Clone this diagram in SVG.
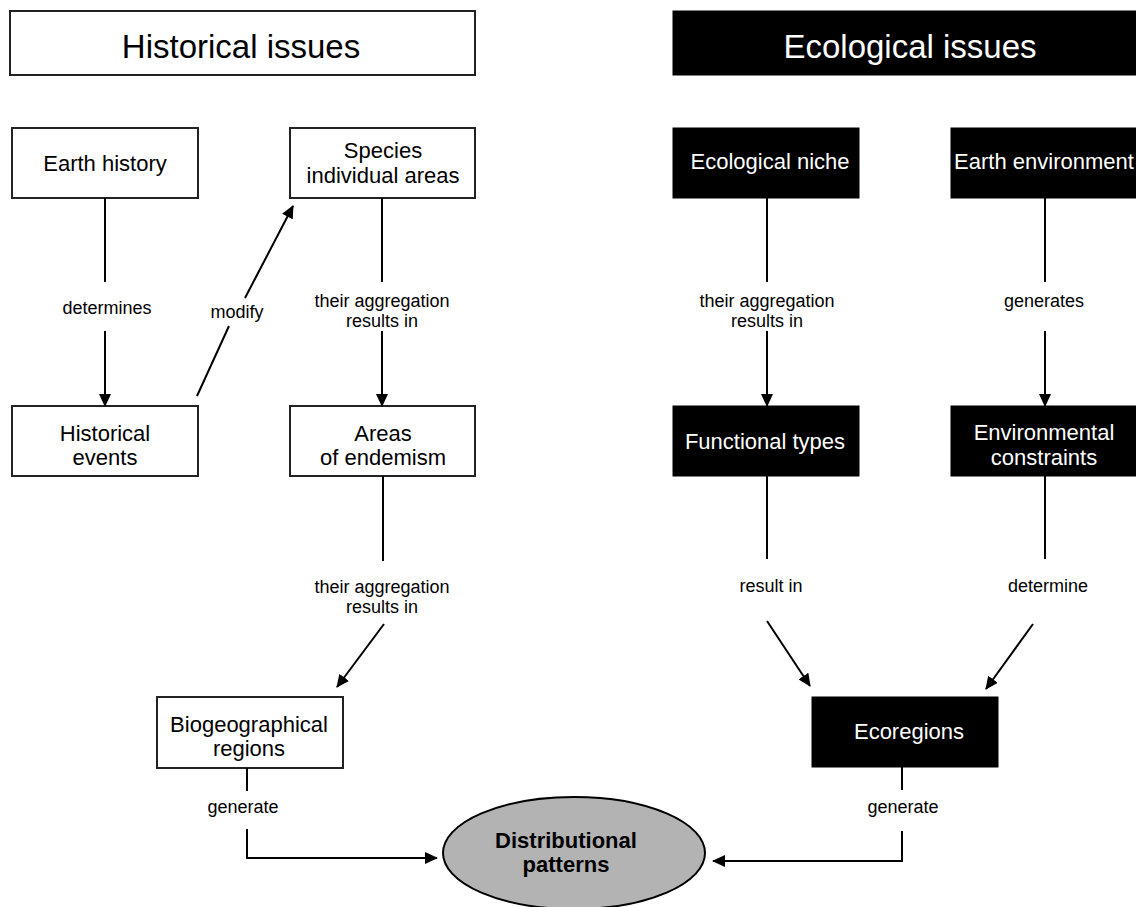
<svg xmlns="http://www.w3.org/2000/svg" width="1136" height="907" viewBox="0 0 1136 907">
<style>
text{font-family:"Liberation Sans",Arial,sans-serif;text-anchor:middle;fill:#000}
.hd{font-size:33px}
.bx{font-size:22px}
.lb{font-size:18px}
.w{fill:#fff}
.b{font-weight:bold}
.wn{fill:#fff;stroke:#222;stroke-width:2}
.bn{fill:#000;stroke:#000;stroke-width:1}
.c{stroke:#000;stroke-width:2;fill:none}
</style>
<defs>
<marker id="ah" markerUnits="userSpaceOnUse" markerWidth="13" markerHeight="12" refX="12" refY="6" orient="auto">
<path d="M0,0 L13,6 L0,12 z" fill="#000"/>
</marker>
</defs>
<rect width="1136" height="907" fill="#fff"/>
<g id="hdr-historical">
<rect x="10" y="11" width="465" height="64" class="wn"/>
<text x="241" y="58" class="hd">Historical issues</text>
</g>
<g id="hdr-ecological">
<rect x="673" y="11" width="474" height="64" class="bn"/>
<text x="910" y="58" class="hd w">Ecological issues</text>
</g>
<g id="earth-history">
<rect x="12" y="128" width="186" height="70" class="wn"/>
<text x="105" y="171" class="bx">Earth history</text>
</g>
<g id="species-areas">
<rect x="290" y="128" width="185" height="70" class="wn"/>
<text x="383" y="158" class="bx">Species</text>
<text x="383" y="183" class="bx">individual areas</text>
</g>
<g id="historical-events">
<rect x="12" y="406" width="186" height="70" class="wn"/>
<text x="105" y="441" class="bx">Historical</text>
<text x="105" y="465" class="bx">events</text>
</g>
<g id="areas-endemism">
<rect x="290" y="406" width="185" height="70" class="wn"/>
<text x="383" y="441" class="bx">Areas</text>
<text x="383" y="465" class="bx">of endemism</text>
</g>
<g id="biogeographical-regions">
<rect x="157" y="697" width="186" height="71" class="wn"/>
<text x="249" y="732" class="bx">Biogeographical</text>
<text x="249" y="756" class="bx">regions</text>
</g>
<g id="ecological-niche">
<rect x="673" y="128" width="186" height="70" class="bn"/>
<text x="770" y="169" class="bx w">Ecological niche</text>
</g>
<g id="earth-environment">
<rect x="951" y="128" width="190" height="70" class="bn"/>
<text x="1044" y="169" class="bx w">Earth environment</text>
</g>
<g id="functional-types">
<rect x="673" y="406" width="186" height="70" class="bn"/>
<text x="765" y="449" class="bx w">Functional types</text>
</g>
<g id="environmental-constraints">
<rect x="951" y="406" width="190" height="70" class="bn"/>
<text x="1044" y="440" class="bx w">Environmental</text>
<text x="1044" y="465" class="bx w">constraints</text>
</g>
<g id="ecoregions">
<rect x="812" y="697" width="186" height="70" class="bn"/>
<text x="909" y="739" class="bx w">Ecoregions</text>
</g>
<g id="distributional-patterns">
<ellipse cx="574" cy="853" rx="131" ry="56" fill="#b3b3b3" stroke="#000" stroke-width="2"/>
<text x="566" y="848" class="bx b">Distributional</text>
<text x="566" y="872" class="bx b">patterns</text>
</g>
<g id="connectors">
<line x1="105" y1="198" x2="105" y2="282" class="c"/>
<line x1="105" y1="331" x2="105" y2="406" class="c" marker-end="url(#ah)"/>
<text x="107" y="314" class="lb">determines</text>
<line x1="197" y1="396" x2="229" y2="326" class="c"/>
<line x1="245" y1="298" x2="293" y2="206" class="c" marker-end="url(#ah)"/>
<text x="237" y="318" class="lb">modify</text>
<line x1="382" y1="198" x2="382" y2="282" class="c"/>
<line x1="382" y1="331" x2="382" y2="406" class="c" marker-end="url(#ah)"/>
<text x="382" y="307" class="lb">their aggregation</text>
<text x="382" y="327" class="lb">results in</text>
<line x1="383" y1="476" x2="383" y2="561" class="c"/>
<line x1="384" y1="624" x2="337" y2="687" class="c" marker-end="url(#ah)"/>
<text x="382" y="593" class="lb">their aggregation</text>
<text x="382" y="613" class="lb">results in</text>
<line x1="247" y1="768" x2="247" y2="791" class="c"/>
<path d="M247,829 V858 H437" class="c" marker-end="url(#ah)"/>
<text x="243" y="813" class="lb">generate</text>
<line x1="767" y1="198" x2="767" y2="282" class="c"/>
<line x1="767" y1="331" x2="767" y2="406" class="c" marker-end="url(#ah)"/>
<text x="767" y="307" class="lb">their aggregation</text>
<text x="767" y="327" class="lb">results in</text>
<line x1="1045" y1="198" x2="1045" y2="282" class="c"/>
<line x1="1045" y1="331" x2="1045" y2="406" class="c" marker-end="url(#ah)"/>
<text x="1044" y="307" class="lb">generates</text>
<line x1="767" y1="476" x2="767" y2="559" class="c"/>
<line x1="767" y1="621" x2="810" y2="686" class="c" marker-end="url(#ah)"/>
<text x="771" y="592" class="lb">result in</text>
<line x1="1045" y1="476" x2="1045" y2="559" class="c"/>
<line x1="1033" y1="624" x2="986" y2="689" class="c" marker-end="url(#ah)"/>
<text x="1048" y="592" class="lb">determine</text>
<line x1="902" y1="767" x2="902" y2="790" class="c"/>
<path d="M902,831 V861 H713" class="c" marker-end="url(#ah)"/>
<text x="903" y="813" class="lb">generate</text>
</g>
</svg>
